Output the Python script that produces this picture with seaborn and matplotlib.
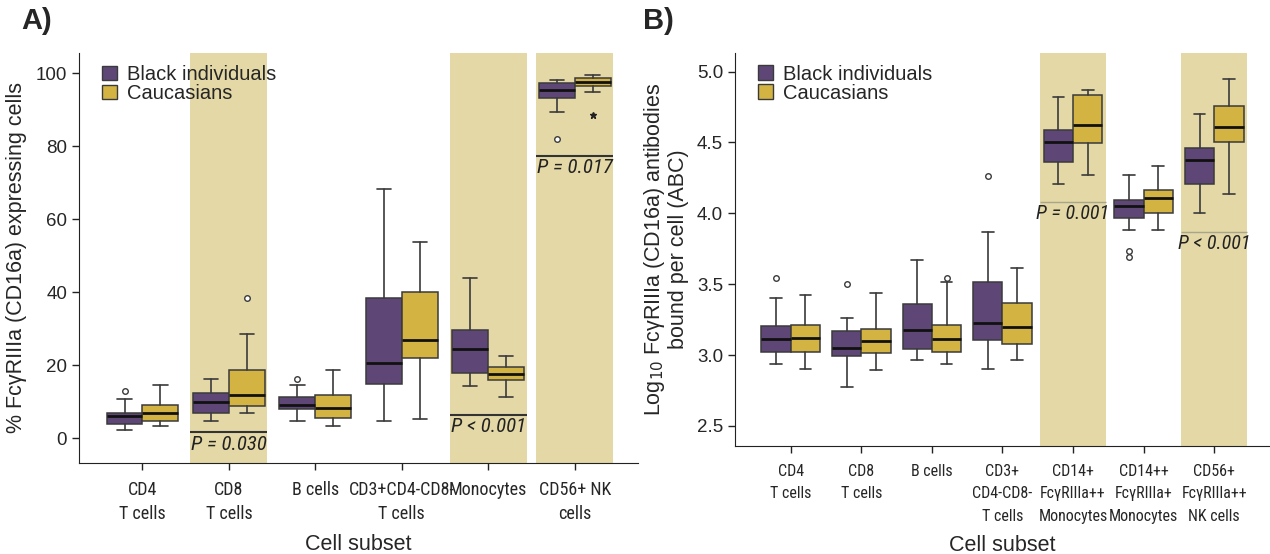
import matplotlib
matplotlib.use("Agg")
import matplotlib.pyplot as plt
from matplotlib.patches import Patch
from matplotlib import font_manager
import seaborn as sns

# ---------------- data ----------------
groups = ["Black individuals", "Caucasians"]

cats_a = ["CD4\nT cells", "CD8\nT cells", "B cells", "CD3+CD4-CD8-\nT cells",
          "Monocytes", "CD56+ NK\ncells"]
a_black_low = [2.3, 4.6, 4.6, 4.7, 14.4, 89.4]
a_black_q1 = [3.8, 7.0, 8.0, 14.9, 17.8, 93.3]
a_black_med = [6.1, 9.9, 9.1, 20.6, 24.4, 95.3]
a_black_q3 = [7.0, 12.3, 11.2, 38.3, 29.5, 97.3]
a_black_high = [10.7, 16.3, 14.5, 68.3, 43.8, 98.0]
a_black_fliers = [[12.8], [], [16.3], [], [], [81.9]]
a_cauc_low = [3.2, 7.0, 3.2, 5.3, 11.4, 94.7]
a_cauc_q1 = [4.6, 8.9, 5.4, 21.9, 15.9, 96.6]
a_cauc_med = [7.0, 11.9, 8.2, 26.9, 17.6, 97.6]
a_cauc_q3 = [9.1, 18.7, 11.8, 40.0, 19.5, 98.7]
a_cauc_high = [14.5, 28.5, 18.7, 53.7, 22.6, 99.5]
a_cauc_fliers = [[], [38.5], [], [], [], []]
a_cauc_extremes = [[], [], [], [], [], [88.4]]
a_sig_idx = [1, 4, 5]
a_sig_y = [1.55, 6.4, 77.4]
a_sig_text = ["P = 0.030", "P < 0.001", "P = 0.017"]

cats_b = ["CD4\nT cells", "CD8\nT cells", "B cells", "CD3+\nCD4-CD8-\nT cells",
          "CD14+\nFcγRIIIa++\nMonocytes", "CD14++\nFcγRIIIa+\nMonocytes",
          "CD56+\nFcγRIIIa++\nNK cells"]
b_black_low = [2.937, 2.773, 2.966, 2.905, 4.205, 3.883, 4.003]
b_black_q1 = [3.022, 2.994, 3.041, 3.104, 4.363, 3.965, 4.210]
b_black_med = [3.114, 3.053, 3.180, 3.229, 4.504, 4.052, 4.377]
b_black_q3 = [3.206, 3.170, 3.363, 3.514, 4.591, 4.092, 4.459]
b_black_high = [3.405, 3.264, 3.671, 3.871, 4.821, 4.271, 4.701]
b_black_fliers = [[3.542], [3.502], [], [4.264], [], [3.737, 3.695], []]
b_cauc_low = [2.902, 2.893, 2.937, 2.966, 4.273, 3.883, 4.135]
b_cauc_q1 = [3.022, 3.013, 3.024, 3.076, 4.494, 4.003, 4.501]
b_cauc_med = [3.119, 3.097, 3.112, 3.196, 4.621, 4.111, 4.607]
b_cauc_q3 = [3.213, 3.182, 3.213, 3.370, 4.833, 4.163, 4.760]
b_cauc_high = [3.422, 3.438, 3.518, 3.612, 4.871, 4.332, 4.951]
b_cauc_fliers = [[], [], [3.542], [], [], [], []]
b_cauc_extremes = [[], [], [], [], [], [], []]
b_sig_idx = [4, 6]
b_sig_y = [4.078, 3.871]
b_sig_text = ["P = 0.001", "P < 0.001"]

# ---------------- style ----------------
sns.set_style("ticks")
plt.rcParams["font.family"] = ["Liberation Sans", "DejaVu Sans"]

# pick a condensed face if one is installed
cond = [f for f in font_manager.fontManager.ttflist
        if ("Narrow" in f.name or "Condensed" in f.fname or "Condensed" in f.name)]
NARROW_FP = None
for pref in ["Liberation Sans Narrow", "Roboto Condensed", "DejaVu Sans"]:
    for f in cond:
        if f.name == pref and f.style == "normal" and f.weight in (400, "normal"):
            NARROW_FP = f.fname
            break
    if NARROW_FP:
        break
NARROW_IT = None
for f in cond:
    if NARROW_FP and f.name == font_manager.FontProperties(fname=NARROW_FP).get_name() \
            and f.style in ("italic", "oblique") and f.weight in (400, "normal"):
        NARROW_IT = f.fname
        break


def narrow(size, italic=False):
    if italic and NARROW_IT:
        return font_manager.FontProperties(fname=NARROW_IT, size=size)
    if NARROW_FP:
        fp = font_manager.FontProperties(fname=NARROW_FP, size=size)
        if italic:
            fp.set_style("italic")
        return fp
    return font_manager.FontProperties(family="Liberation Sans", size=size * 0.85,
                                       style="italic" if italic else "normal")


PURPLE = "#5E4777"
GOLD = "#D3B443"
SHADE = "#E3D8A6"
EDGE = "#3a3a3a"

fig = plt.figure(figsize=(12.7, 5.54), dpi=100)
ax_a = fig.add_axes([0.0622, 0.1643, 0.440, 0.740])
ax_b = fig.add_axes([0.5787, 0.195, 0.4213, 0.710])


def make_stats(low, q1, med, q3, high, fliers):
    return [dict(whislo=l, q1=a, med=m, q3=b, whishi=h, fliers=f)
            for l, a, m, b, h, f in zip(low, q1, med, q3, high, fliers)]


def draw_panel(ax, cats, black, cauc, cauc_ext, sig_idx, sig_y, sig_text,
               half_shade, sig_color, sig_lw, p_size, tick_size, tick_ls):
    n = len(cats)
    bw = 0.415
    for i in sig_idx:
        ax.axvspan(i - half_shade, i + half_shade, color=SHADE, lw=0, zorder=0)
    for stats, off, col in ((black, -bw / 2, PURPLE), (cauc, bw / 2, GOLD)):
        ax.bxp(stats, positions=[i + off for i in range(n)], widths=bw,
               capwidths=bw * 0.4, patch_artist=True, manage_ticks=False,
               boxprops=dict(facecolor=col, edgecolor=EDGE, linewidth=1.1),
               medianprops=dict(color="#111111", linewidth=2.0),
               whiskerprops=dict(color=EDGE, linewidth=1.2),
               capprops=dict(color=EDGE, linewidth=1.2),
               flierprops=dict(marker="o", markersize=4, markerfacecolor="white",
                               markeredgecolor=EDGE, markeredgewidth=1.0,
                               linestyle="none"),
               zorder=3)
    for i, ext in enumerate(cauc_ext):
        if ext:
            ax.plot([i + bw / 2] * len(ext), ext, linestyle="none", marker="*",
                    markersize=5, color="#222222", zorder=4)
    for i, y, t in zip(sig_idx, sig_y, sig_text):
        ax.hlines(y, i - half_shade, i + half_shade, color=sig_color, lw=sig_lw, zorder=2)
        ax.annotate(t, (i, y), xytext=(0, -1.5), textcoords="offset points",
                    ha="center", va="top", fontproperties=narrow(p_size, True),
                    color="#222222", zorder=5)
    ax.set_xticks(range(n))
    ax.set_xticklabels(cats, fontproperties=narrow(tick_size), linespacing=tick_ls,
                       va="top")
    ax.set_xlabel("Cell subset", fontsize=15.5, labelpad=8)
    sns.despine(ax=ax)
    ax.spines["left"].set_color("#222222")
    ax.spines["bottom"].set_color("#222222")
    ax.tick_params(axis="both", color="#222222", length=5, width=1.0)
    ax.tick_params(axis="x", pad=8)
    ax.tick_params(axis="y", labelsize=13.5)
    handles = [Patch(facecolor=PURPLE, edgecolor=EDGE, label=groups[0]),
               Patch(facecolor=GOLD, edgecolor=EDGE, label=groups[1])]
    ax.legend(handles=handles, loc="upper left", bbox_to_anchor=(0.02, 1.0),
              frameon=False, fontsize=14.5, handlelength=0.75, handleheight=0.75,
              handletextpad=0.5, labelspacing=0.0, borderaxespad=0.2)


black_a = make_stats(a_black_low, a_black_q1, a_black_med, a_black_q3, a_black_high, a_black_fliers)
cauc_a = make_stats(a_cauc_low, a_cauc_q1, a_cauc_med, a_cauc_q3, a_cauc_high, a_cauc_fliers)
draw_panel(ax_a, cats_a, black_a, cauc_a, a_cauc_extremes, a_sig_idx, a_sig_y,
           a_sig_text, 0.445, "#333333", 1.5, 15, 13, 1.45)
ax_a.set_xlim(-0.734, 5.73)
ax_a.set_ylim(-6.8, 105.5)
ax_a.set_yticks([0, 20, 40, 60, 80, 100])
ax_a.set_ylabel("% FcγRIIIa (CD16a) expressing cells", fontsize=15.5, labelpad=6)

black_b = make_stats(b_black_low, b_black_q1, b_black_med, b_black_q3, b_black_high, b_black_fliers)
cauc_b = make_stats(b_cauc_low, b_cauc_q1, b_cauc_med, b_cauc_q3, b_cauc_high, b_cauc_fliers)
draw_panel(ax_b, cats_b, black_b, cauc_b, b_cauc_extremes, b_sig_idx, b_sig_y,
           b_sig_text, 0.47, "#a8a58c", 1.0, 14.5, 11.5, 1.62)
ax_b.set_xlim(-0.79, 6.79)
ax_b.set_ylim(2.359, 5.134)
ax_b.set_yticks([2.5, 3.0, 3.5, 4.0, 4.5, 5.0])
ax_b.set_yticklabels(["2.5", "3.0", "3.5", "4.0", "4.5", "5.0"])
ax_b.set_ylabel("Log$_{10}$ FcγRIIIa (CD16a) antibodies\nbound per cell (ABC)",
                fontsize=15.5, labelpad=6, linespacing=1.05)

fig.text(0.017, 0.962, "A)", fontsize=21, fontweight="bold", va="center", ha="left")
fig.text(0.506, 0.962, "B)", fontsize=21, fontweight="bold", va="center", ha="left")

fig.savefig("out.png", dpi=100)
